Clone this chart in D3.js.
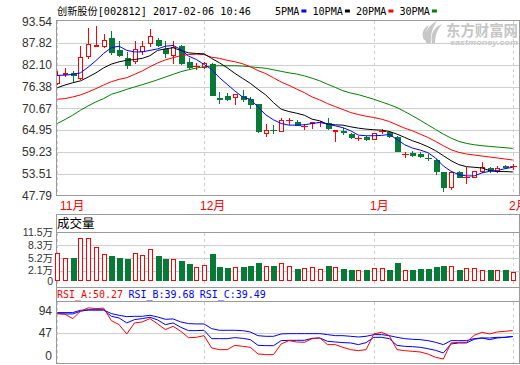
<!DOCTYPE html>
<html><head><meta charset="utf-8">
<script src="https://cdn.jsdelivr.net/npm/d3@7/dist/d3.min.js"></script>
<style>html,body{margin:0;padding:0;background:#fff;}svg{display:block;}</style>
</head><body>
<div id="chart"></div>
<script>
// ---------------- data ----------------
const title = "创新股份[002812] 2017-02-06 10:46";
const maNames = ["5PMA", "10PMA", "20PMA", "30PMA"];
const monthLabels = ["11月", "12月", "1月", "2月"];
const monthStart = [0, 19, 41, 59];
const priceTicks = [93.54, 87.82, 82.10, 76.38, 70.67, 64.95, 59.23, 53.51, 47.79];
const volTicks = [0, 2.1, 5.2, 8.3, 11.5];
const volTickLabels = ["0", "2.1万", "5.2万", "8.3万", "11.5万"];
const rsiTicks = [0, 47, 94];
const rsiNames = ["RSI_A", "RSI_B", "RSI_C"];
const rsiLast = ["50.27", "39.68", "39.49"];

const openP = [77.42,79.80,80.03,78.73,84.30,87.10,87.18,89.18,85.96,83.78,
 83.08,85.87,87.88,88.75,86.39,84.65,87.00,82.91,81.70,81.60,
 82.39,73.40,73.93,73.76,73.93,73.06,71.76,64.09,65.10,64.61,
 67.60,67.22,66.05,66.92,67.10,66.79,64.61,64.60,63.91,62.85,
 63.04,62.61,64.75,64.52,63.04,58.65,58.86,58.68,57.73,57.11,
 53.89,50.15,53.89,52.55,52.58,54.15,55.02,54.15,55.63,55.44];
const highP = [80.47,81.34,80.47,87.18,91.80,92.23,90.23,90.93,88.31,85.52,
 88.31,88.31,91.54,89.18,88.31,88.31,87.27,83.96,82.65,82.91,
 82.65,74.98,74.80,74.37,75.42,73.67,71.76,66.53,66.27,68.27,
 68.27,67.57,66.53,67.22,67.40,68.27,64.96,65.48,64.17,63.48,
 63.48,64.09,65.22,64.78,63.48,59.30,59.56,59.30,58.68,57.38,
 53.89,54.33,54.15,55.20,54.15,56.50,55.37,55.63,55.90,56.07];
const lowP = [76.98,79.16,77.86,78.29,83.78,87.00,86.74,85.00,84.39,81.34,
 82.65,84.83,87.00,87.00,84.22,82.65,82.39,81.08,81.08,81.34,
 74.20,72.19,72.89,71.93,72.63,70.71,64.35,63.48,64.17,64.61,
 66.53,66.35,65.22,65.39,66.09,65.22,62.00,63.91,62.87,62.35,
 62.35,62.61,64.09,63.22,59.56,57.81,58.25,57.81,57.11,53.46,
 48.93,49.54,52.58,51.02,52.58,53.89,53.89,53.89,55.02,54.76];
const closeP = [79.34,79.90,79.34,84.22,87.70,87.20,88.75,85.52,84.65,81.95,
 86.39,87.00,89.79,87.44,85.09,86.83,82.65,81.60,81.85,82.47,
 74.20,73.25,73.24,74.37,73.24,71.76,64.80,64.96,64.98,67.57,
 67.70,66.35,66.12,67.00,67.18,65.39,64.96,64.45,63.04,62.90,
 62.61,64.09,64.80,63.48,59.56,58.70,58.50,58.25,57.60,54.33,
 50.15,53.89,52.76,52.60,54.15,55.20,54.50,55.02,55.20,55.48];
const volume = [6.4,5.3,5.2,10.2,10.0,7.8,6.2,5.8,5.3,5.0,
 6.4,5.9,7.4,5.8,5.0,5.0,4.4,3.8,3.0,3.5,
 6.2,3.1,2.9,3.0,3.1,3.3,4.1,3.4,3.4,4.1,
 3.4,2.6,2.9,3.1,2.6,3.4,3.1,2.6,2.4,2.4,
 2.2,2.9,2.9,2.4,3.9,2.4,2.2,2.5,2.5,3.1,
 3.4,3.4,2.4,2.9,2.9,2.4,2.2,2.2,2.2,1.9];
const ma5 = [79.34,79.4,79.6,80.0,81.5,83.2,85.1,86.6,87.0,85.9,
 85.5,85.5,85.9,86.3,87.0,87.2,86.13,84.39,83.52,82.21,
 80.9,78.73,76.98,75.24,73.67,73.06,71.06,68.97,67.66,66.7,
 66.27,66.27,66.35,66.7,66.96,66.53,66.09,65.6,64.78,63.65,
 63.48,63.48,63.57,63.83,62.52,61.12,60.25,59.73,59.03,57.64,
 55.55,54.15,53.28,52.93,52.93,53.72,54.15,54.33,54.85,55.2];
const ma10 = [76.1,76.8,77.4,77.9,78.9,80.0,81.3,82.3,82.9,83.3,
 83.5,83.8,84.5,85.9,86.3,86.6,85.87,85.26,85.09,85.0,
 83.78,82.65,81.34,79.86,78.55,77.25,75.68,74.2,72.19,70.45,
 69.84,69.40,68.88,67.83,67.40,66.53,66.35,66.27,65.83,65.48,
 65.22,65.05,64.96,64.61,63.91,63.04,62.17,61.47,60.6,59.56,
 58.25,56.94,55.9,55.37,55.2,55.02,54.33,54.07,54.07,53.98];
const ma20 = [73.06,73.24,73.67,74.2,74.98,75.85,76.81,77.68,78.29,78.73,
 79.6,80.5,81.6,82.6,83.4,84.0,84.5,84.8,84.9,84.8,
 84.1,83.8,83.3,82.9,82.4,81.6,80.6,79.8,78.7,77.59,
 76.72,75.76,74.8,73.67,72.89,71.93,71.14,70.36,69.58,69.05,
 68.62,68.27,67.83,67.22,66.35,65.48,64.78,63.91,63.04,61.99,
 60.86,59.82,59.12,58.68,58.42,58.16,57.9,57.64,57.38,57.11];
const ma30 = [66.7,67.75,68.88,70.19,71.32,72.37,73.24,74.37,74.98,75.68,
 76.29,76.9,77.51,78.2,78.9,79.6,80.3,80.82,81.25,81.6,
 81.78,81.86,81.86,81.86,81.78,81.6,81.4,81.2,80.8,80.4,
 80.0,79.7,79.2,78.6,77.9,77.0,76.2,75.3,74.7,74.28,
 73.67,73.06,72.37,71.67,70.88,69.84,68.71,67.57,66.35,65.13,
 63.91,62.87,62.0,61.47,61.12,60.86,60.69,60.51,60.34,60.17];
const rsiA = [87.9,86.4,77.3,92.8,100.0,98.4,99.5,73.1,64.6,45.0,
 68.2,70.3,77.3,66.1,54.1,61.1,50.6,37.0,37.9,41.4,
 15.4,11.9,11.9,21.0,18.9,16.8,2.8,1.4,1.4,23.9,
 30.9,28.1,27.4,35.1,36.5,22.5,22.5,16.8,11.9,9.8,
 11.9,45.0,48.5,41.4,11.9,9.8,8.4,7.0,2.8,-4.3,
 -7.8,26.0,27.4,27.4,42.1,48.5,45.0,49.2,50.6,52.0];
const rsiB = [87.9,87.2,87.2,92.8,95.6,95.6,95.6,82.2,78.7,68.2,
 75.2,77.3,80.1,74.5,64.6,68.2,59.0,52.0,52.0,52.7,
 35.1,35.1,35.1,37.2,35.8,33.0,21.0,20.3,20.3,30.9,
 31.6,31.6,31.6,35.8,36.5,29.5,28.1,26.7,26.0,22.5,
 26.7,37.9,37.9,35.1,21.0,18.9,18.2,16.8,14.0,10.5,
 4.9,23.9,26.0,26.0,33.7,36.5,33.0,36.5,37.9,39.7];
const rsiC = [90.0,90.0,90.0,94.9,95.6,95.6,95.6,87.9,84.3,81.5,
 82.2,82.2,84.3,80.8,75.9,76.6,70.3,66.8,66.1,66.1,
 56.2,52.7,52.7,52.7,52.0,49.2,41.4,40.0,40.0,45.0,
 45.6,45.6,45.6,45.6,45.6,43.6,41.4,41.4,40.0,38.6,
 40.0,43.6,43.6,41.4,37.9,35.1,33.7,33.0,30.9,27.4,
 22.5,30.9,30.9,30.9,35.1,36.5,36.5,37.9,37.9,39.5];

// ---------------- layout / style ----------------
const W = 520, H = 365;
const L = 56.5, R = 519.5;
const RED = "#ff0000", GREEN = "#087a38", BLUE = "#0000ff";
const FRAME = "#9a9a9a", GRID = "#cfcfcf";
const maColors = [BLUE, "#000000", RED, "#008000"];
const rsiColors = [RED, BLUE, BLUE];
const MONO = "'DejaVu Sans Mono','Noto Sans CJK SC',monospace";
const SANS = "'Liberation Sans','Noto Sans CJK SC',sans-serif";

const svg = d3.select("#chart").append("svg").attr("width", W).attr("height", H);

const n = closeP.length;
const idx = d3.range(n);
const x = d3.scaleLinear().domain([0, n - 1]).range([57.3, 512.8]);
const yP = d3.scaleLinear().domain([47.79, 93.54]).range([195.5, 21.3]);
const yV = d3.scaleLinear().domain([0, 11.5]).range([279.5, 232.3]);
const yR = d3.scaleLinear().domain([0, 94]).range([355.3, 310.7]);
const px = i => Math.round(x(i));
const crisp = v => Math.round(v) + 0.5;

// ---------------- header ----------------
svg.append("text").attr("x", 57).attr("y", 15)
  .attr("font-family", MONO).attr("font-size", 10).attr("fill", "#000")
  .attr("textLength", 194).attr("lengthAdjust", "spacingAndGlyphs").text(title);

let lx = 275;
maNames.forEach((nm, k) => {
  const tw = nm.length * 6.1;
  svg.append("text").attr("x", lx).attr("y", 15)
    .attr("font-family", MONO).attr("font-size", 10).attr("fill", "#000")
    .attr("textLength", tw).attr("lengthAdjust", "spacingAndGlyphs").text(nm);
  svg.append("rect").attr("x", lx + tw + 2).attr("y", 9.5).attr("width", 5).attr("height", 3)
    .attr("fill", maColors[k]);
  lx += tw + 2 + 5 + 6;
});

// ---------------- watermark ----------------
const wm = svg.append("g").attr("fill", "#c6c6c6");
wm.append("path").attr("d", "M427,44 C422,36 427,26 437,21 C432,28 430,36 431,44 Z");
wm.append("path").attr("d", "M432,43 C430,34 434,27 442,24 C437,30 435,36 435,43 Z");
wm.append("path").attr("d", "M424,40 C421,34 423,28 429,25 C426,30 425,35 426,40 Z");
wm.append("text").attr("x", 446).attr("y", 36).attr("font-family", SANS)
  .attr("font-size", 14.5).attr("font-weight", "bold")
  .attr("textLength", 72).attr("lengthAdjust", "spacingAndGlyphs").text("东方财富网");
wm.append("text").attr("x", 450).attr("y", 44.5).attr("font-family", SANS)
  .attr("font-size", 8).attr("font-weight", "bold").attr("font-style", "italic")
  .attr("textLength", 68).attr("lengthAdjust", "spacingAndGlyphs").text("eastmoney.com");

// ---------------- main price panel ----------------
const gMain = svg.append("g");
priceTicks.forEach(t => {
  const y = crisp(yP(t));
  if (t !== priceTicks[0] && t !== priceTicks[priceTicks.length - 1]) {
    gMain.append("line").attr("x1", L).attr("x2", R).attr("y1", y).attr("y2", y)
      .attr("stroke", GRID);
  }
  gMain.append("text").attr("x", 52).attr("y", yP(t)).attr("dy", "0.36em")
    .attr("text-anchor", "end").attr("font-family", SANS).attr("font-size", 12)
    .attr("fill", "#333").text(d3.format(".2f")(t));
});

function monthLines(g, y1, y2) {
  monthStart.forEach(i => {
    const xx = px(i) + 0.5;
    g.append("line").attr("x1", xx).attr("x2", xx).attr("y1", y1).attr("y2", y2)
      .attr("stroke", GRID).attr("stroke-dasharray", "3,3");
  });
}
monthLines(gMain, 21, 195);

svg.append("clipPath").attr("id", "clipMain").append("rect")
  .attr("x", L).attr("y", 20.5).attr("width", R - L).attr("height", 175);
const gC = svg.append("g").attr("clip-path", "url(#clipMain)");

idx.forEach(i => {
  const up = closeP[i] >= openP[i];
  const c = px(i);
  const col = up ? RED : GREEN;
  const top = yP(Math.max(openP[i], closeP[i]));
  const bot = yP(Math.min(openP[i], closeP[i]));
  gC.append("line").attr("x1", c + 0.5).attr("x2", c + 0.5)
    .attr("y1", Math.round(yP(highP[i]))).attr("y2", Math.round(yP(lowP[i])) + 1)
    .attr("stroke", col);
  const h = Math.round(bot) - Math.round(top);
  if (h < 1) {
    gC.append("line").attr("x1", c - 3).attr("x2", c + 4)
      .attr("y1", crisp(top)).attr("y2", crisp(top)).attr("stroke", col);
  } else if (up) {
    gC.append("rect").attr("x", c - 1.5).attr("y", Math.round(top) + 0.5)
      .attr("width", 4).attr("height", h).attr("fill", "#fff").attr("stroke", col);
  } else {
    gC.append("rect").attr("x", c - 2).attr("y", Math.round(top))
      .attr("width", 6).attr("height", h + 1).attr("fill", col);
  }
});

const lineP = d3.line().x((d, i) => x(i)).y(d => yP(d));
[ma30, ma20, ma10, ma5].forEach((arr, k) => {
  gC.append("path").attr("d", lineP(arr)).attr("fill", "none")
    .attr("stroke", maColors[3 - k]).attr("stroke-width", 1);
});

svg.append("rect").attr("x", L).attr("y", 20.5).attr("width", R - L).attr("height", 175)
  .attr("fill", "none").attr("stroke", FRAME);

// month labels (the last one is clipped by the page edge, as in the original)
monthLabels.forEach((m, k) => {
  svg.append("text").attr("x", Math.max(60, px(monthStart[k]) - 4)).attr("y", 210)
    .attr("font-family", SANS).attr("font-size", 12).attr("fill", RED).text(m);
});

// ---------------- volume panel ----------------
const gV = svg.append("g");
gV.append("rect").attr("x", L).attr("y", 214.5).attr("width", R - L).attr("height", 73)
  .attr("fill", "none").attr("stroke", FRAME);
gV.append("text").attr("x", 57).attr("y", 228).attr("font-family", SANS)
  .attr("font-size", 12.5).attr("fill", "#000").text("成交量");
volTicks.forEach((t, k) => {
  const y = crisp(yV(t));
  if (t > 0) {
    gV.append("line").attr("x1", L).attr("x2", R).attr("y1", y).attr("y2", y)
      .attr("stroke", t === volTicks[volTicks.length - 1] ? FRAME : GRID);
  }
  gV.append("text").attr("x", 53).attr("y", yV(t) + (t === 0 ? 2 : 0)).attr("dy", "0.34em")
    .attr("text-anchor", "end").attr("font-family", SANS).attr("font-size", 10.5)
    .attr("fill", "#333").text(volTickLabels[k]);
});
monthLines(gV, 233, 287);
idx.forEach(i => {
  const up = closeP[i] >= openP[i];
  const c = px(i);
  const top = Math.round(yV(volume[i]));
  const base = Math.round(yV(0));
  if (up) {
    gV.append("rect").attr("x", c - 1.5).attr("y", top + 0.5)
      .attr("width", 4).attr("height", base - top).attr("fill", "#fff").attr("stroke", RED);
  } else {
    gV.append("rect").attr("x", c - 2).attr("y", top)
      .attr("width", 6).attr("height", base - top + 1).attr("fill", GREEN);
  }
});

// ---------------- RSI panel ----------------
const gR = svg.append("g");
gR.append("rect").attr("x", L).attr("y", 287.5).attr("width", R - L).attr("height", 76)
  .attr("fill", "none").attr("stroke", FRAME);
gR.append("line").attr("x1", L).attr("x2", R).attr("y1", 301.5).attr("y2", 301.5)
  .attr("stroke", FRAME);
rsiNames.forEach((nm, k) => {
  gR.append("text").attr("x", 57 + k * 12 * 5.95).attr("y", 297.5)
    .attr("font-family", MONO).attr("font-size", 10).attr("fill", rsiColors[k])
    .attr("textLength", 11 * 6.0).attr("lengthAdjust", "spacingAndGlyphs")
    .text(nm + ":" + rsiLast[k]);
});
rsiTicks.forEach(t => {
  if (t === 47) {
    const y = crisp(yR(t));
    gR.append("line").attr("x1", L).attr("x2", R).attr("y1", y).attr("y2", y).attr("stroke", GRID);
  }
  gR.append("text").attr("x", 52).attr("y", yR(t)).attr("dy", "0.36em")
    .attr("text-anchor", "end").attr("font-family", SANS).attr("font-size", 12)
    .attr("fill", "#333").text(t);
});
monthLines(gR, 302, 363);
const lineR = d3.line().x((d, i) => x(i)).y(d => yR(d));
[rsiC, rsiB, rsiA].forEach((arr, k) => {
  gR.append("path").attr("d", lineR(arr)).attr("fill", "none")
    .attr("stroke", rsiColors[2 - k]).attr("stroke-width", 1);
});
</script>
</body></html>
